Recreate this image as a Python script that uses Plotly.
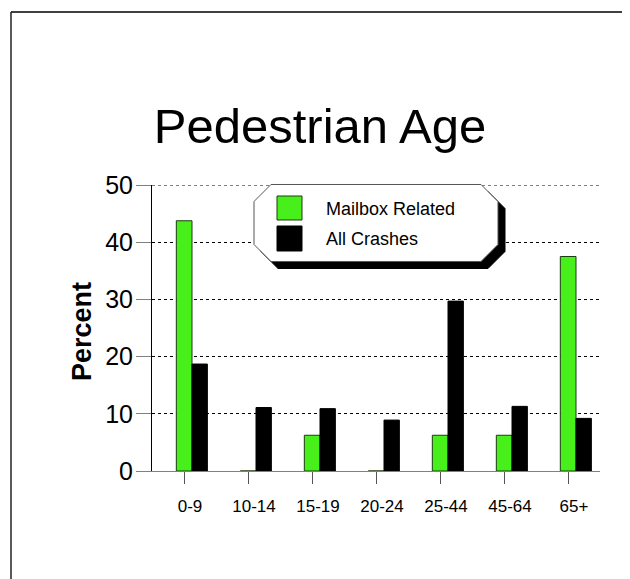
import plotly.graph_objects as go

categories = ["0-9", "10-14", "15-19", "20-24", "25-44", "45-64", "65+"]
mailbox_related = [43.75, 0, 6.25, 0, 6.25, 6.25, 37.5]
all_crashes = [18.7, 11.1, 10.9, 8.9, 29.7, 11.3, 9.2]
series_names = ["Mailbox Related", "All Crashes"]
y_ticks = [0, 10, 20, 30, 40, 50]

# page has an 8px body margin; figure sized to fit the 630x579 window
OFF = 8
W, H = 630 - OFF, 579 - OFF
L, R, T, B = 152 - OFF, 30, 185 - OFF, 108
PW, PH = W - L - R, H - T - B

def px(x):
    return (x - OFF - L) / PW

def py(y):
    return (H - B - (y - OFF)) / PH

GREEN = "#47F01A"
FONT = "Liberation Sans, Arial, sans-serif"

fig = go.Figure()
fig.add_trace(go.Bar(
    x=categories, y=mailbox_related, name=series_names[0],
    marker=dict(color=GREEN, line=dict(color="#1c3a10", width=1)),
    width=0.245, offset=-0.12, showlegend=False,
))
fig.add_trace(go.Bar(
    x=categories, y=all_crashes, name=series_names[1],
    marker=dict(color="black", line=dict(color="black", width=1)),
    width=0.24, offset=0.125, showlegend=False,
))

shapes = []
# outer frame (top and left)
shapes.append(dict(type="line", xref="paper", yref="paper",
                   x0=px(11), y0=py(12), x1=px(640), y1=py(12),
                   line=dict(color="black", width=1.3)))
shapes.append(dict(type="line", xref="paper", yref="paper",
                   x0=px(11), y0=py(12), x1=px(11), y1=py(590),
                   line=dict(color="black", width=1.3)))
# top gridline (at the range edge)
shapes.append(dict(type="line", xref="paper", yref="y",
                   x0=0, x1=1, y0=y_ticks[-1], y1=y_ticks[-1],
                   line=dict(color="black", width=1, dash="dot"), layer="below"))

# legend octagon
lx0, lx1, ly0, ly1, c = 254, 498, 184.5, 261.5, 17

def octagon(dx=0, dy=0):
    pts = [(lx0 + c, ly0), (lx1 - c, ly0), (lx1, ly0 + c), (lx1, ly1 - c),
           (lx1 - c, ly1), (lx0 + c, ly1), (lx0, ly1 - c), (lx0, ly0 + c)]
    return "M " + " L ".join(f"{px(x + dx):.5f},{py(y + dy):.5f}" for x, y in pts) + " Z"

shapes.append(dict(type="path", xref="paper", yref="paper", path=octagon(7, 7),
                   fillcolor="black", line=dict(color="black", width=1), layer="above"))
shapes.append(dict(type="path", xref="paper", yref="paper", path=octagon(),
                   fillcolor="white", line=dict(color="#555555", width=1), layer="above"))
# legend swatches
shapes.append(dict(type="rect", xref="paper", yref="paper",
                   x0=px(277), x1=px(302), y0=py(196), y1=py(220),
                   fillcolor=GREEN, line=dict(color="#1c3a10", width=1), layer="above"))
shapes.append(dict(type="rect", xref="paper", yref="paper",
                   x0=px(277), x1=px(302), y0=py(226), y1=py(251),
                   fillcolor="black", line=dict(color="black", width=1), layer="above"))

annotations = [
    dict(text=series_names[0], xref="paper", yref="paper", x=px(324), y=py(209),
         xanchor="left", yanchor="middle", showarrow=False,
         font=dict(family=FONT, size=18, color="black")),
    dict(text=series_names[1], xref="paper", yref="paper", x=px(324), y=py(239),
         xanchor="left", yanchor="middle", showarrow=False,
         font=dict(family=FONT, size=18, color="black")),
    dict(text="<b>Percent</b>", xref="paper", yref="paper", x=px(82), y=py(332),
         xanchor="center", yanchor="middle", textangle=-90, showarrow=False,
         font=dict(family=FONT, size=27, color="black")),
]

fig.update_layout(
    width=W, height=H,
    margin=dict(l=L, r=R, t=T, b=B, pad=0),
    paper_bgcolor="white", plot_bgcolor="white",
    barmode="overlay",
    showlegend=False,
    title=dict(text="Pedestrian Age", x=(320 - OFF) / W, xanchor="center",
               y=1 - (126 - OFF) / H, yanchor="middle",
               font=dict(family=FONT, size=49, color="black")),
    shapes=shapes,
    annotations=annotations,
    font=dict(family=FONT, color="black"),
)

fig.update_xaxes(
    type="category", range=[-0.5, 6.5],
    showline=True, linecolor="#808080", linewidth=1,
    ticks="outside", ticklen=12, tickcolor="#555555", tickwidth=1,
    tickfont=dict(family=FONT, size=17, color="black"),
    ticklabelshift=6, ticklabelstandoff=8,
    showgrid=False, zeroline=False,
)
fig.update_yaxes(
    range=[0, 50], tickvals=y_ticks,
    showline=True, linecolor="black", linewidth=1,
    ticks="outside", ticklen=15, tickcolor="#808080", tickwidth=1,
    tickfont=dict(family=FONT, size=25, color="black"),
    ticklabelstandoff=-2,
    showgrid=True, gridcolor="black", gridwidth=1, griddash="dot",
    zeroline=False,
)

fig.write_html("out.html")
